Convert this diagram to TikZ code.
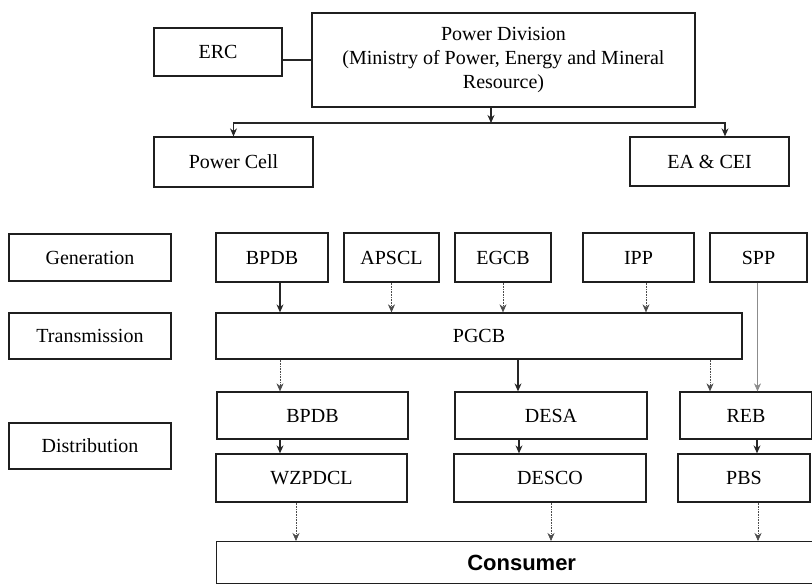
\documentclass[tikz,border=0pt]{standalone}
\usepackage{fontspec}
\setmainfont{Liberation Serif}
\newfontfamily\consfont{Liberation Sans}
\usetikzlibrary{arrows.meta}
\begin{document}
\begin{tikzpicture}[x=1pt,y=-1pt,
  box/.style={draw=black!88, line width=1.3pt, inner sep=0pt, align=center,
    font=\fontsize{20}{24}\selectfont},
  arr/.style={draw=black!85, line width=1.1pt, -{Stealth[length=8pt,width=7pt]}},
  faint/.style={draw=black!70, line width=0.6pt, densely dotted, -{Stealth[length=8pt,width=7pt]}},
  grayline/.style={draw=black!45, line width=0.6pt, -{Stealth[length=8pt,width=7pt]}},
  bus/.style={draw=black!85, line width=1.1pt}]
\clip (0,0) rectangle (812,584);
\fill[white] (0,0) rectangle (812,584);

% top
\node[box, minimum width=128pt, minimum height=48pt] (erc) at (218,52) {ERC};
\node[box, minimum width=383pt, minimum height=94pt] (pd) at (503.5,60)
  {Power Division\\(Ministry of Power, Energy and Mineral\\Resource)};
\node[box, minimum width=159pt, minimum height=50pt] (pc) at (233.5,162) {Power Cell};
\node[box, minimum width=159pt, minimum height=49pt] (ea) at (709.5,161.5) {EA \& CEI};
\coordinate (bus) at (491,123);

\draw[bus] (pd.west) -- (pd.west -| erc.east);
\draw[arr] ([xshift=-12.5pt]pd.south) -- (bus);
\draw[arr] (bus) -| (pc.north);
\draw[arr] (bus) -| ([xshift=15.5pt]ea.north);

% left labels
\node[box, minimum width=162pt, minimum height=47pt] (lgen) at (90,257.5) {Generation};
\node[box, minimum width=162pt, minimum height=46pt] (ltra) at (90,336) {Transmission};
\node[box, minimum width=162pt, minimum height=46pt] (ldis) at (90,446) {Distribution};

% generation
\node[box, minimum width=112pt, minimum height=49pt] (gb) at (272,257.5) {BPDB};
\node[box, minimum width=95pt, minimum height=49pt] (ga) at (391.5,257.5) {APSCL};
\node[box, minimum width=96pt, minimum height=49pt] (ge) at (503,257.5) {EGCB};
\node[box, minimum width=111pt, minimum height=49pt] (gi) at (638.5,257.5) {IPP};
\node[box, minimum width=97pt, minimum height=49pt] (gs) at (758.5,257.5) {SPP};

% transmission
\node[box, minimum width=526pt, minimum height=46pt] (pgcb) at (479,336) {PGCB};

% distribution
\node[box, minimum width=191pt, minimum height=47pt] (db) at (312.5,415.5) {BPDB};
\node[box, minimum width=192pt, minimum height=47pt] (desa) at (551,415.5) {DESA};
\node[box, minimum width=132pt, minimum height=47pt] (reb) at (746,415.5) {REB};
\node[box, minimum width=191pt, minimum height=48pt] (wz) at (311.5,478) {WZPDCL};
\node[box, minimum width=192pt, minimum height=48pt] (desco) at (550,478) {DESCO};
\node[box, minimum width=132pt, minimum height=48pt] (pbs) at (744,478) {PBS};

% consumer
\node[box, minimum width=610pt, minimum height=42pt, anchor=north west,
  font=\consfont\bfseries\fontsize{22}{26}\selectfont] (cons) at (216,541) {Consumer};

% generation -> PGCB
\draw[arr] ([xshift=8pt]gb.south) -- ([xshift=8pt]gb.south |- pgcb.north);
\draw[faint] (ga.south) -- (ga.south |- pgcb.north);
\draw[faint] (ge.south) -- (ge.south |- pgcb.north);
\draw[faint] ([xshift=7.5pt]gi.south) -- ([xshift=7.5pt]gi.south |- pgcb.north);
\draw[grayline] ([xshift=-1pt]gs.south) -- ([xshift=-1pt]gs.south |- reb.north);

% PGCB -> distribution
\draw[faint] ([xshift=-32.5pt]db.north |- pgcb.south) -- ([xshift=-32.5pt]db.north);
\draw[arr] ([xshift=-33pt]desa.north |- pgcb.south) -- ([xshift=-33pt]desa.north);
\draw[faint] ([xshift=-36pt]reb.north |- pgcb.south) -- ([xshift=-36pt]reb.north);

% row 1 -> row 2
\draw[arr] ([xshift=-32.5pt]db.south) -- ([xshift=-32.5pt]db.south |- wz.north);
\draw[arr] ([xshift=-32pt]desa.south) -- ([xshift=-32pt]desa.south |- desco.north);
\draw[arr] ([xshift=11pt]reb.south) -- ([xshift=11pt]reb.south |- pbs.north);

% row 2 -> consumer
\draw[faint] ([xshift=-15.5pt]wz.south) -- ([xshift=-15.5pt]wz.south |- cons.north);
\draw[faint] ([xshift=1pt]desco.south) -- ([xshift=1pt]desco.south |- cons.north);
\draw[faint] ([xshift=14pt]pbs.south) -- ([xshift=14pt]pbs.south |- cons.north);
\end{tikzpicture}
\end{document}
